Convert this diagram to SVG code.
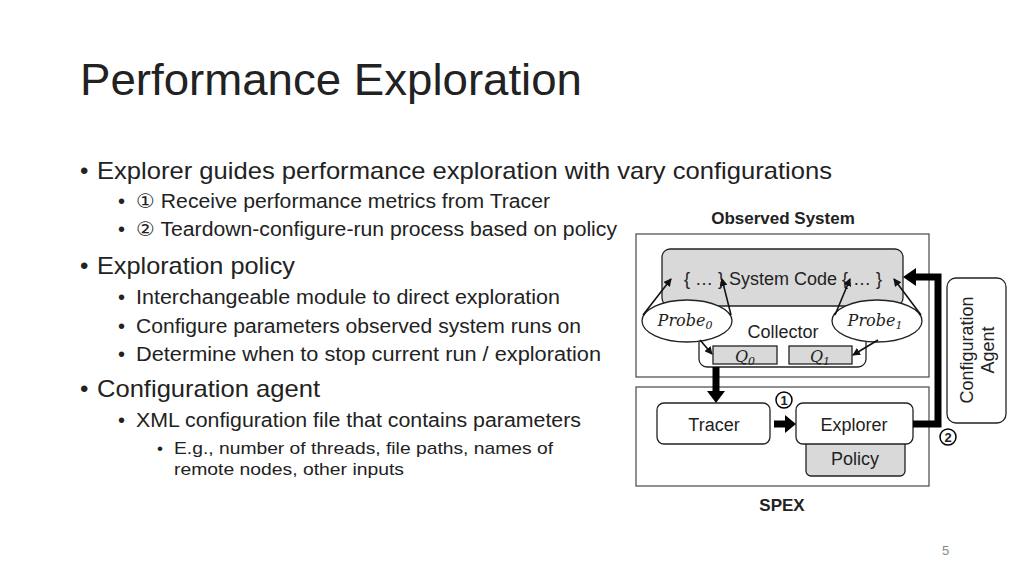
<svg xmlns="http://www.w3.org/2000/svg" width="1024" height="576" viewBox="0 0 1024 576">
<style>
text{font-family:"Liberation Sans","DejaVu Sans",sans-serif;fill:#222}
.l1{font-size:24px}.l2{font-size:20px}.l3{font-size:17px}
.box{fill:#fff;stroke:#555;stroke-width:1.3}
.rbox{fill:#fff;stroke:#222;stroke-width:1.3}
.gbox{fill:#d9d9d9;stroke:#222;stroke-width:1.3}
.lab{font-size:18px;text-anchor:middle}
.m{font-family:"DejaVu Serif",serif;font-style:italic;font-size:16px;text-anchor:middle}
.thin{stroke:#111;stroke-width:1.6;fill:none;marker-end:url(#a)}
.thick{stroke:#000;stroke-width:7;fill:none}
</style>
<defs>
<marker id="a" markerWidth="8" markerHeight="8" refX="7" refY="4" orient="auto" markerUnits="userSpaceOnUse"><path d="M0,0L8,4L0,8z" fill="#111"/></marker>
</defs>
<rect width="1024" height="576" fill="#fff"/>
<text x="80" y="95" font-size="44" textLength="502" lengthAdjust="spacingAndGlyphs">Performance Exploration</text>
<g>
<text x="80" y="179" class="l1">•</text><text x="97" y="179" class="l1" textLength="735" lengthAdjust="spacingAndGlyphs">Explorer guides performance exploration with vary configurations</text>
<text x="118" y="208" class="l2">•</text><text x="136" y="208" class="l2" textLength="414" lengthAdjust="spacingAndGlyphs">① Receive performance metrics from Tracer</text>
<text x="118" y="236" class="l2">•</text><text x="136" y="236" class="l2" textLength="481" lengthAdjust="spacingAndGlyphs">② Teardown-configure-run process based on policy</text>
<text x="80" y="274" class="l1">•</text><text x="97" y="274" class="l1" textLength="198" lengthAdjust="spacingAndGlyphs">Exploration policy</text>
<text x="118" y="304" class="l2">•</text><text x="136" y="304" class="l2" textLength="424" lengthAdjust="spacingAndGlyphs">Interchangeable module to direct exploration</text>
<text x="118" y="333" class="l2">•</text><text x="136" y="333" class="l2" textLength="445" lengthAdjust="spacingAndGlyphs">Configure parameters observed system runs on</text>
<text x="118" y="361" class="l2">•</text><text x="136" y="361" class="l2" textLength="465" lengthAdjust="spacingAndGlyphs">Determine when to stop current run / exploration</text>
<text x="80" y="397" class="l1">•</text><text x="97" y="397" class="l1" textLength="223" lengthAdjust="spacingAndGlyphs">Configuration agent</text>
<text x="118" y="427" class="l2">•</text><text x="136" y="427" class="l2" textLength="445" lengthAdjust="spacingAndGlyphs">XML configuration file that contains parameters</text>
<text x="157" y="454" class="l3">•</text><text x="174" y="454" class="l3" textLength="379" lengthAdjust="spacingAndGlyphs">E.g., number of threads, file paths, names of</text>
<text x="174" y="475" class="l3" textLength="230" lengthAdjust="spacingAndGlyphs">remote nodes, other inputs</text>
</g>
<text x="942" y="555" font-size="13" fill="#888" style="fill:#888">5</text>
<text x="783" y="224" font-size="17" font-weight="bold" text-anchor="middle">Observed System</text>
<text x="782" y="511" font-size="17" font-weight="bold" text-anchor="middle">SPEX</text>
<g id="observed"><rect x="636" y="234" width="293" height="143" class="box"/></g>
<g id="spex"><rect x="636" y="387" width="293" height="99" class="box"/></g>
<g id="collector"><rect x="699" y="296" width="167" height="71" rx="8" class="rbox"/><text x="783" y="338" class="lab">Collector</text></g>
<g id="systemcode"><rect x="662" y="249" width="241" height="57" rx="8" class="gbox"/><text x="783" y="285" class="lab">{ … } System Code { … }</text></g>
<g id="q0"><rect x="713" y="346" width="64" height="18" class="gbox"/><text x="745" y="362" class="m">Q<tspan font-size="11" dy="3">0</tspan></text></g>
<g id="q1"><rect x="789" y="346" width="63" height="18" class="gbox"/><text x="820" y="362" class="m">Q<tspan font-size="11" dy="3">1</tspan></text></g>
<g id="probe0"><ellipse cx="687" cy="321" rx="45" ry="21" class="rbox"/><text x="685" y="326" class="m">Probe<tspan font-size="11" dy="3">0</tspan></text></g>
<g id="probe1"><ellipse cx="877" cy="321" rx="45" ry="21" class="rbox"/><text x="875" y="326" class="m">Probe<tspan font-size="11" dy="3">1</tspan></text></g>
<g id="tracer"><rect x="657" y="403" width="113" height="41" rx="7" class="rbox"/><text x="714" y="431" class="lab">Tracer</text></g>
<g id="policy"><rect x="806" y="436" width="99" height="40" rx="5" class="gbox"/><text x="855" y="465" class="lab">Policy</text></g>
<g id="explorer"><rect x="796" y="403" width="117" height="41" rx="7" class="rbox"/><text x="854" y="431" class="lab">Explorer</text></g>
<g id="agent"><rect x="947" y="278" width="59" height="145" rx="9" class="rbox"/><text transform="translate(973,350) rotate(-90)" class="lab">Configuration</text><text transform="translate(994,350) rotate(-90)" class="lab">Agent</text></g>
<g id="connectors">
<line x1="643" y1="315" x2="671" y2="279" class="thin"/>
<line x1="731" y1="315" x2="722" y2="279" class="thin"/>
<line x1="835" y1="315" x2="850" y2="279" class="thin"/>
<line x1="921" y1="315" x2="894" y2="279" class="thin"/>
<line x1="700" y1="340" x2="712" y2="354" class="thin"/>
<line x1="878" y1="340" x2="853" y2="355" class="thin"/>
<line x1="716" y1="367" x2="716" y2="392" class="thick"/><path d="M707,391L725,391L716,403z" fill="#000"/>
<line x1="774" y1="424" x2="786" y2="424" class="thick"/><path d="M785,415L796,424L785,433z" fill="#000"/>
<polyline points="913,424 938,424 938,277 915,277" class="thick"/><path d="M916,268L916,286L903,277z" fill="#000"/>
<circle cx="784" cy="400" r="8" fill="#fff" stroke="#000" stroke-width="1.5"/><text x="784" y="405" font-size="13" font-weight="bold" text-anchor="middle">1</text>
<circle cx="948" cy="437" r="8" fill="#fff" stroke="#000" stroke-width="1.5"/><text x="948" y="442" font-size="13" font-weight="bold" text-anchor="middle">2</text>
</g>
</svg>
